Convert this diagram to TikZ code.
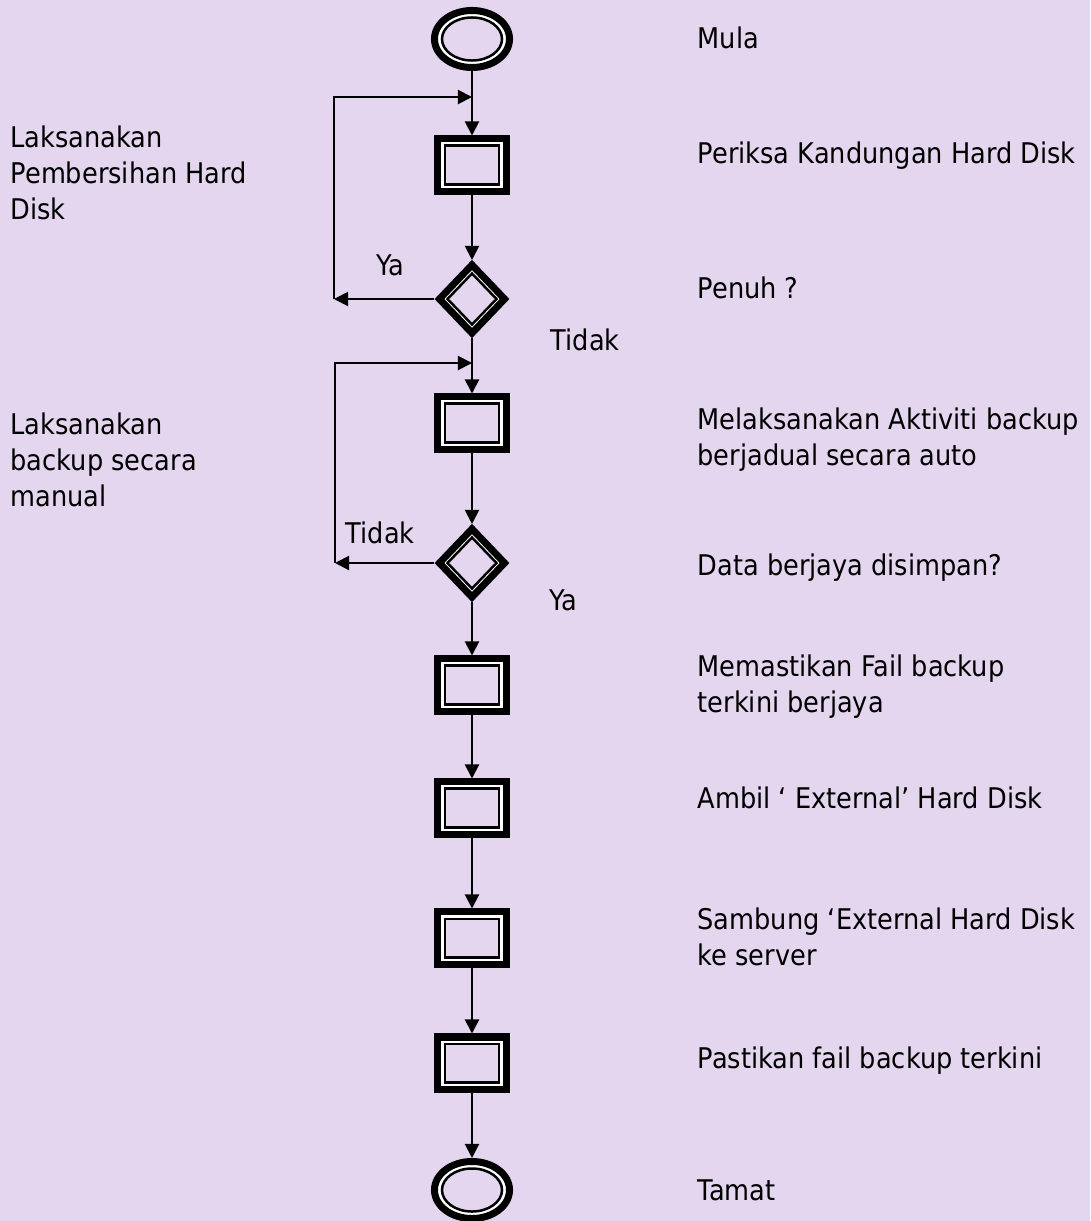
\documentclass[tikz,border=0pt]{standalone}
\usepackage{fontspec}
\setmainfont{DejaVu Sans}[FakeStretch=0.9]
\usepackage{xcolor}
\usetikzlibrary{shapes.geometric, arrows.meta}

\definecolor{lilac}{RGB}{227,214,238}

\tikzset{
  shell/.style={draw=black, fill=white, line width=0.07cm, inner sep=0pt},
  core/.style={draw=black, fill=lilac, line width=0.025cm, inner sep=0pt},
  term/.style={ellipse, shell, minimum width=0.75cm, minimum height=0.57cm},
  termin/.style={ellipse, core, minimum width=0.60cm, minimum height=0.43cm},
  proc/.style={rectangle, shell, minimum width=0.68cm, minimum height=0.52cm},
  procin/.style={rectangle, core, minimum width=0.54cm, minimum height=0.385cm},
  ask/.style={diamond, shell, minimum width=0.68cm, minimum height=0.71cm},
  askin/.style={diamond, core, minimum width=0.50cm, minimum height=0.52cm},
  flow/.style={line width=0.02cm, -{Triangle[width=0.14cm,length=0.14cm]}},
  lbl/.style={anchor=base west, align=left, inner sep=0pt,
    font=\fontsize{8.1}{10.2}\selectfont},
}

\begin{document}
\begin{tikzpicture}[x=0.01cm, y=-0.01cm]
    \fill[lilac] (0,0) rectangle (1090,1221);
    \useasboundingbox (0,0) rectangle (1090,1221);

    % main column
    \node[term] (start) at (472,39) {};
    \node[proc] (chk) at (472,165) {};
    \node[ask] (full) at (472,299) {};
    \node[proc] (auto) at (472,423) {};
    \node[ask] (saved) at (472,563) {};
    \node[proc] (verify) at (472,685) {};
    \node[proc] (take) at (472,808) {};
    \node[proc] (plug) at (472,938) {};
    \node[proc] (last) at (472,1063) {};
    \node[term] (stop) at (472,1190) {};

    \foreach \n/\s in {start/termin, chk/procin, full/askin, auto/procin,
        saved/askin, verify/procin, take/procin, plug/procin, last/procin,
        stop/termin}
      \node[\s] at (\n) {};

    \coordinate (in1) at (472,97);
    \coordinate (in2) at (472,363);
    \coordinate (back1) at (334,299);
    \coordinate (back2) at (335,563);

    \path[flow]
      (start) edge (chk)
      (chk) edge (full)
      (full) edge (auto)
      (auto) edge (saved)
      (saved) edge (verify)
      (verify) edge (take)
      (take) edge (plug)
      (plug) edge (last)
      (last) edge (stop);

    % loops back
    \draw[flow] (full.west) -- (back1);
    \draw[flow] (back1) |- (in1);
    \draw[flow] (saved.west) -- (back2);
    \draw[flow] (back2) |- (in2);

    % branch labels
    \node[lbl] (ya1) at (376,275) {Ya};
    \node[lbl] (tidak1) at (550,350) {Tidak};
    \node[lbl] (tidak2) at (345,543) {Tidak};
    \node[lbl] (ya2) at (549,610) {Ya};

    % step descriptions (base = last line)
    \node[lbl] (tmula) at (697,48) {Mula};
    \node[lbl] (tchk) at (697,163) {Periksa Kandungan Hard Disk};
    \node[lbl] (tfull) at (697,298) {Penuh ?};
    \node[lbl] (tauto) at (697,465) {Melaksanakan Aktiviti backup\\berjadual secara auto};
    \node[lbl] (tsaved) at (697,575) {Data berjaya disimpan?};
    \node[lbl] (tverify) at (697,712) {Memastikan Fail backup\\terkini berjaya};
    \node[lbl] (ttake) at (697,808) {Ambil ‘ External’ Hard Disk};
    \node[lbl] (tplug) at (697,965) {Sambung ‘External Hard Disk\\ke server};
    \node[lbl] (tlast) at (697,1068) {Pastikan fail backup terkini};
    \node[lbl] (tstop) at (697,1200) {Tamat};

    \node[lbl] (tclean) at (10,219) {Laksanakan\\Pembersihan Hard\\Disk};
    \node[lbl] (tmanual) at (10,506) {Laksanakan\\backup secara\\manual};
\end{tikzpicture}
\end{document}
